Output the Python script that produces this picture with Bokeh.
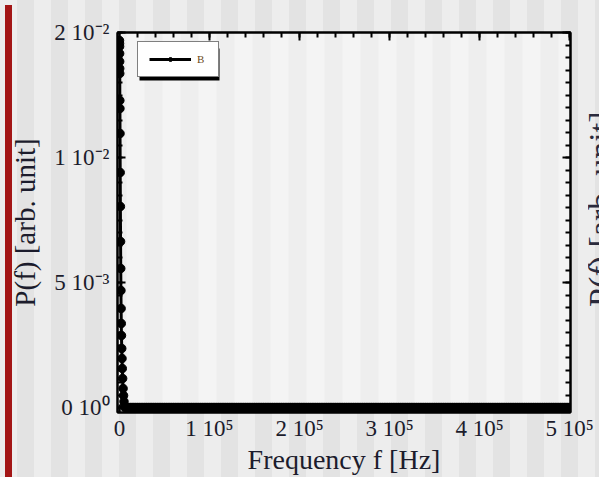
import numpy as np
from bokeh.plotting import figure
from bokeh.layouts import row
from bokeh.models import (LinearAxis, FixedTicker, Range1d, Legend, LegendItem,
                          BoxAnnotation, Div, CustomJSTickFormatter)
from bokeh.embed import file_html
from bokeh.resources import INLINE

# ---- data ----
peak_freq = [0, 50, 100, 150, 200, 250, 300, 400, 500, 600, 800, 1000, 1200,
             1400, 1600, 1800, 2000, 2200, 2500, 2800, 3100, 3500, 4000, 4500,
             5000, 5500]
peak_power = [0.01468, 0.01456, 0.01444, 0.01416, 0.01384, 0.01356, 0.01336,
              0.01228, 0.01196, 0.01096, 0.00940, 0.00804, 0.00664, 0.00556,
              0.00468, 0.00396, 0.00336, 0.00288, 0.00236, 0.00196, 0.00156,
              0.00116, 0.00076, 0.00048, 0.00024, 0.00008]
tail_freq = list(np.arange(6000, 500001, 2000))
tail_power = [0.0] * len(tail_freq)

freq = peak_freq + tail_freq
power = peak_power + tail_power

x_ticks = [0, 100000, 200000, 300000, 400000, 500000]
x_tick_labels = ["0", "1 10\u2075", "2 10\u2075", "3 10\u2075", "4 10\u2075", "5 10\u2075"]
y_ticks = [0, 0.005, 0.01, 0.015]
y_tick_labels = ["0 10\u2070", "5 10\u207b\u00b3", "1 10\u207b\u00b2", "2 10\u207b\u00b2"]
series_name = "B"
x_title = "Frequency f [Hz]"
y_title = "P(f) [arb. unit]"

FONT = "Liberation Serif"
TXT = "#1c1c2c"

p = figure(width=599, height=477, output_backend="svg", toolbar_location=None,
           x_range=Range1d(-2200, 501000), y_range=Range1d(-0.0002, 0.015),
           x_axis_type=None, y_axis_type=None,
           min_border_left=117, min_border_right=29, min_border_top=32,
           min_border_bottom=65)
p.background_fill_color = "#f4f4f4"
p.border_fill_alpha = 0
p.outline_line_color = "black"
p.outline_line_width = 2

# subtle vertical stripes inside the frame (scan texture)
for sx in range(-9, 470, 36):
    p.add_layout(BoxAnnotation(left=sx, right=sx + 18, top=460, bottom=-80,
                               left_units="screen", right_units="screen",
                               top_units="screen", bottom_units="screen",
                               fill_color="black", fill_alpha=0.025,
                               line_alpha=0, level="underlay"))

xt = FixedTicker(ticks=x_ticks, minor_ticks=list(range(0, 500001, 20000)))
yt = FixedTicker(ticks=y_ticks, minor_ticks=[i * 0.0005 for i in range(0, 31)])

def style(ax, show):
    ax.axis_line_color = "black"
    ax.axis_line_width = 2
    ax.major_tick_in = 8
    ax.major_tick_out = 0
    ax.minor_tick_in = 5
    ax.minor_tick_out = 0
    ax.major_tick_line_width = 2
    ax.minor_tick_line_width = 2
    ax.major_tick_line_color = "black"
    ax.minor_tick_line_color = "black"
    if show:
        ax.major_label_text_font = FONT
        ax.major_label_text_font_size = "23px"
        ax.major_label_text_color = TXT
        ax.axis_label_text_font = FONT
        ax.axis_label_text_font_size = "28px"
        ax.axis_label_text_font_style = "normal"
        ax.axis_label_text_color = TXT
    else:
        ax.formatter = CustomJSTickFormatter(code="return ''")
        ax.major_label_standoff = 0

bottom = LinearAxis(ticker=xt, axis_label=x_title)
bottom.major_label_overrides = {t: l for t, l in zip(x_ticks, x_tick_labels)}
style(bottom, True)
bottom.major_label_standoff = 3
bottom.axis_label_standoff = 0
p.add_layout(bottom, "below")

left = LinearAxis(ticker=yt, axis_label=y_title)
left.major_label_overrides = {t: l for t, l in zip(y_ticks, y_tick_labels)}
style(left, True)
left.axis_label_text_font_size = "29px"
left.major_label_standoff = 8
left.axis_label_standoff = 10
p.add_layout(left, "left")

top = LinearAxis(ticker=xt)
style(top, False)
p.add_layout(top, "above")
right = LinearAxis(ticker=yt)
style(right, False)
p.add_layout(right, "right")

r_line = p.line(freq, power, line_color="black", line_width=3)
r_pts = p.scatter(freq, power, size=8.5, fill_color="black", line_color="black")

# legend drop shadow
p.add_layout(BoxAnnotation(left=22, right=102, top=364, bottom=332,
                           left_units="screen", right_units="screen",
                           top_units="screen", bottom_units="screen",
                           fill_color="black", fill_alpha=1, line_alpha=0))

legend = Legend(items=[LegendItem(label=series_name, renderers=[r_line, r_pts])],
                location=(20, 335), padding=11, glyph_width=42, glyph_height=10,
                label_width=10, label_height=10,
                label_standoff=6, label_text_font=FONT,
                label_text_font_size="11px", label_text_color="#6b4a1a",
                border_line_color="black", border_line_width=1.5,
                background_fill_color="white", background_fill_alpha=1,
                margin=0, spacing=0)
p.add_layout(legend)

# overlay: red edge bar on the left, partly visible label of the next panel
overlay_html = (
    '<div style="position:absolute;left:-599px;top:0;width:7px;height:477px;'
    'background:#a31616;"></div>'
    '<div style="position:absolute;left:-16px;top:0;width:16px;height:477px;'
    'overflow:hidden;">'
    '<div style="position:absolute;left:-5px;top:92px;width:36px;height:224px;'
    'line-height:36px;font-size:34px;font-family:\'Liberation Serif\';'
    'color:#2a2a3c;white-space:nowrap;writing-mode:vertical-rl;'
    'text-align:center;transform:rotate(180deg);">'
    'P(<i>f</i>) [arb. unit]</div></div>'
)
overlay = Div(text=overlay_html, width=0, height=477,
              styles={"overflow": "visible", "position": "relative"})

layout = row(p, overlay, spacing=0,
             styles={"background": "repeating-linear-gradient(90deg, "
                     "#ededed 0px, #ededed 17px, #e3e3e3 17px, #e3e3e3 34px)"})

open("out.html", "w").write(file_html(layout, INLINE))
